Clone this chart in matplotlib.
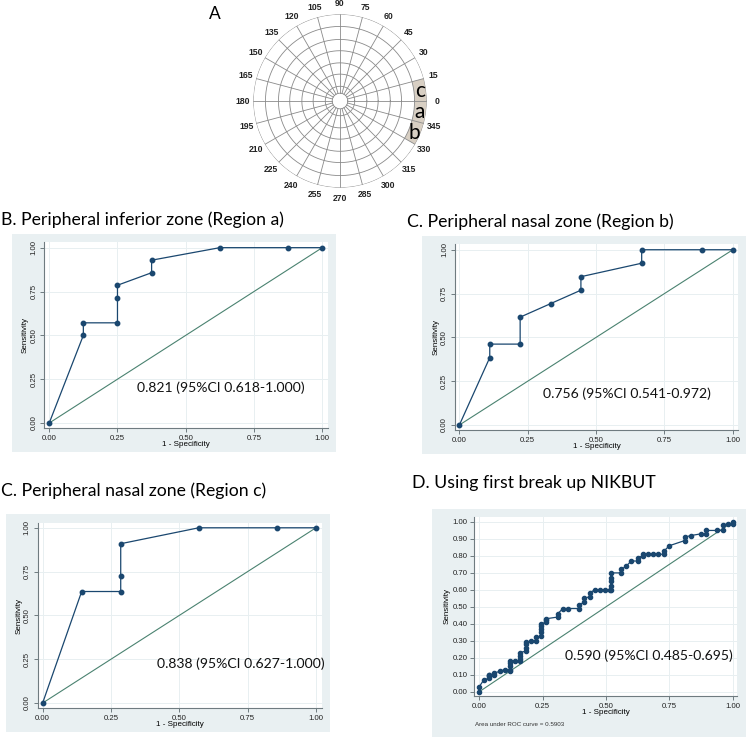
"""
Corneal map with peripheral regions (A) and ROC curves for the
tear film break-up measures (B-D), redrawn as one figure -> out.png
"""

import numpy as np
import matplotlib

matplotlib.use("Agg")
import matplotlib.pyplot as plt
from matplotlib.patches import Rectangle

W, H = 746, 737
TITLE_FONT = "Lato"
TICK_FONT = "Liberation Sans"
NAVY = "#1a476f"
REF_GREEN = "#4a8270"
GRAPH_BG = "#e9f0f2"
GRID = "#e8eff1"
SPINE = "#6f7b80"

# panel A: polar map
MAP_ANGLES = list(range(0, 360, 15))
MAP_RINGS = [0.09, 0.17, 0.31, 0.44, 0.58, 0.71, 0.86, 1.0]
REGION_NAMES = ["c", "a", "b"]
REGION_START = [0, -15, -30]   # degrees
REGION_WIDTH = 15

# ROC curves, (1 - specificity, sensitivity)
B_FPR = [0, 1/8, 1/8, 2/8, 2/8, 2/8, 3/8, 3/8, 5/8, 7/8, 1]
B_TPR = [0, 7/14, 8/14, 8/14, 10/14, 11/14, 12/14, 13/14, 1, 1, 1]
B_AUC = "0.821 (95%CI 0.618-1.000)"

CB_FPR = [0, 1/9, 1/9, 2/9, 2/9, 3/9, 4/9, 4/9, 6/9, 6/9, 8/9, 1]
CB_TPR = [0, 5/13, 6/13, 6/13, 8/13, 9/13, 10/13, 11/13, 12/13, 1, 1, 1]
CB_AUC = "0.756 (95%CI 0.541-0.972)"

CC_FPR = [0, 1/7, 2/7, 2/7, 2/7, 4/7, 6/7, 1]
CC_TPR = [0, 7/11, 7/11, 8/11, 10/11, 1, 1, 1]
CC_AUC = "0.838 (95%CI 0.627-1.000)"

D_FPR = [0, 0, 0.018, 0.04, 0.04, 0.04, 0.04, 0.06, 0.06, 0.08, 0.10, 0.12,
         0.12, 0.12, 0.12, 0.12, 0.14, 0.16, 0.16, 0.16, 0.16, 0.185, 0.185,
         0.185, 0.185, 0.205, 0.225, 0.225, 0.245, 0.245, 0.245, 0.245, 0.245,
         0.265, 0.265, 0.265, 0.31, 0.31, 0.33, 0.35, 0.395, 0.395, 0.415,
         0.415, 0.435, 0.435, 0.455, 0.475, 0.495, 0.515, 0.52, 0.52, 0.52,
         0.52, 0.52, 0.56, 0.56, 0.58, 0.60, 0.625, 0.625, 0.645, 0.645, 0.665,
         0.685, 0.705, 0.73, 0.73, 0.75, 0.81, 0.81, 0.835, 0.875, 0.895,
         0.895, 0.94, 0.96, 0.96, 0.98, 1.0, 1.0]
D_TPR = [0, 0.03, 0.07, 0.08, 0.09, 0.10, 0.10, 0.10, 0.11, 0.12, 0.13, 0.12,
         0.13, 0.15, 0.17, 0.18, 0.18, 0.18, 0.19, 0.21, 0.23, 0.24, 0.26,
         0.28, 0.29, 0.30, 0.30, 0.32, 0.33, 0.35, 0.37, 0.39, 0.40,
         0.41, 0.42, 0.43, 0.44, 0.46, 0.49, 0.49, 0.49, 0.51, 0.53,
         0.55, 0.56, 0.58, 0.60, 0.60, 0.60, 0.60, 0.60, 0.62, 0.65,
         0.67, 0.70, 0.70, 0.72, 0.74, 0.77, 0.77, 0.79, 0.80, 0.81, 0.81,
         0.81, 0.81, 0.81, 0.83, 0.86, 0.89, 0.91, 0.92, 0.93, 0.93,
         0.95, 0.95, 0.95, 0.98, 0.99, 0.99, 1.0]
D_AUC = "0.590 (95%CI 0.485-0.695)"
D_NOTE = "Area under ROC curve = 0.5903"

BC_TICKS = [0, 0.25, 0.5, 0.75, 1.0]
D_YTICKS = [i / 10 for i in range(11)]


def px_rect(left, top, right, bottom):
    """pixel box -> figure fraction [l, b, w, h]"""
    return [left / W, 1 - bottom / H, (right - left) / W, (bottom - top) / H]


def graph_bg(fig, left, top, right, bottom):
    r = px_rect(left, top, right, bottom)
    fig.patches.append(Rectangle((r[0], r[1]), r[2], r[3], transform=fig.transFigure,
                                 facecolor=GRAPH_BG, edgecolor="none", zorder=-5))


def roc_panel(fig, box, xlim, ylim, fpr, tpr, auc_text, auc_xy, yticks,
              rotate_y=True, msize=3.2):
    ax = fig.add_axes(px_rect(*box))
    ax.set_facecolor("white")
    ax.set_xlim(*xlim)
    ax.set_ylim(*ylim)
    ax.plot([0, 1], [0, 1], color=REF_GREEN, lw=0.8, zorder=2)
    ax.plot(fpr, tpr, color=NAVY, lw=0.9, marker="o", ms=msize, zorder=3)
    ax.set_xticks(BC_TICKS)
    ax.set_xticklabels(["{:.2f}".format(t) for t in BC_TICKS],
                       fontsize=5.6, family=TICK_FONT)
    ax.set_yticks(yticks)
    if rotate_y:
        ax.set_yticklabels(["{:.2f}".format(t) for t in yticks], fontsize=5.6,
                           family=TICK_FONT, rotation=90, va="center")
    else:
        ax.set_yticklabels(["{:.2f}".format(t) for t in yticks], fontsize=5.6,
                           family=TICK_FONT)
    ax.grid(True, color=GRID, lw=0.7)
    ax.set_axisbelow(True)
    for s in ("top", "right"):
        ax.spines[s].set_visible(False)
    for s in ("left", "bottom"):
        ax.spines[s].set_color(SPINE)
        ax.spines[s].set_linewidth(0.8)
    ax.tick_params(length=3, width=0.7, color=SPINE, pad=2, labelcolor="#222222")
    ax.set_xlabel("1 - Specificity", fontsize=5.8, family=TICK_FONT, labelpad=-1)
    ax.set_ylabel("Sensitivity", fontsize=5.8, family=TICK_FONT, labelpad=1)
    ax.text(auc_xy[0], auc_xy[1], auc_text, fontsize=10.1, family=TITLE_FONT,
            ha="left", va="center", color="#111111")
    return ax


def map_panel(fig):
    cx, cy, r = 340, 101, 86.7
    ax = fig.add_axes(px_rect(cx - r, cy - r, cx + r, cy + r), projection="polar")
    ax.set_ylim(0, 1)
    ax.axis("off")
    theta = np.linspace(0, 2 * np.pi, 400)
    # shaded peripheral regions
    for start in REGION_START:
        ax.bar(np.deg2rad(start + REGION_WIDTH / 2), MAP_RINGS[-1] - MAP_RINGS[-2],
               width=np.deg2rad(REGION_WIDTH), bottom=MAP_RINGS[-2],
               color="#d8cfc3", edgecolor="none", zorder=1)
    for rr in MAP_RINGS:
        ax.plot(theta, np.full_like(theta, rr), color="#8a8a8a", lw=0.6, zorder=2)
    for a in MAP_ANGLES:
        t = np.deg2rad(a)
        ax.plot([t, t], [MAP_RINGS[0], MAP_RINGS[-1]], color="#8a8a8a", lw=0.6, zorder=2)
        ax.text(t, 1.12, str(a), fontsize=6.2, family=TICK_FONT, fontweight="bold",
                ha="center", va="center", color="#222222")
    for name, start in zip(REGION_NAMES, REGION_START):
        ax.text(np.deg2rad(start + REGION_WIDTH / 2 - 0.5), 0.93, name, fontsize=15,
                family=TITLE_FONT, ha="center", va="center", zorder=4)
    fig.text(215 / W, 1 - 14 / H, "A", fontsize=12.5, family=TITLE_FONT,
             ha="center", va="center")


def main():
    fig = plt.figure(figsize=(W / 100, H / 100), dpi=100)
    fig.patch.set_facecolor("white")

    map_panel(fig)

    # B
    graph_bg(fig, 12, 234, 336, 452)
    fig.text(1 / W, 1 - 220 / H, "B. Peripheral inferior zone (Region a)",
             fontsize=12.7, family=TITLE_FONT, ha="left", va="center")
    roc_panel(fig, (44.3, 241.7, 328, 428.3), (-0.018, 1.021), (-0.030, 1.034),
              B_FPR, B_TPR, B_AUC, (0.322, 0.20), BC_TICKS)

    # C, region b
    graph_bg(fig, 422, 236, 746, 454)
    fig.text(407 / W, 1 - 221.7 / H, "C. Peripheral nasal zone (Region b)",
             fontsize=12.7, family=TITLE_FONT, ha="left", va="center")
    roc_panel(fig, (455, 244.3, 738.3, 430), (-0.016, 1.020), (-0.0285, 1.031),
              CB_FPR, CB_TPR, CB_AUC, (0.305, 0.178), BC_TICKS)

    # C, region c
    graph_bg(fig, 6, 514, 330, 732)
    fig.text(1 / W, 1 - 491 / H, "C. Peripheral nasal zone (Region c)",
             fontsize=12.7, family=TITLE_FONT, ha="left", va="center")
    roc_panel(fig, (37.7, 522.7, 321.7, 708.3), (-0.018, 1.021), (-0.030, 1.029),
              CC_FPR, CC_TPR, CC_AUC, (0.42, 0.222), BC_TICKS)

    # D
    graph_bg(fig, 432, 509, 746, 737)
    fig.text(412 / W, 1 - 483.3 / H, "D. Using first break up NIKBUT",
             fontsize=12.7, family=TITLE_FONT, ha="left", va="center")
    roc_panel(fig, (474.3, 516.7, 736.7, 696), (-0.0197, 1.016), (-0.0253, 1.031),
              D_FPR, D_TPR, D_AUC, (0.338, 0.21), D_YTICKS, rotate_y=False, msize=3.0)
    fig.text(475 / W, 1 - 724 / H, D_NOTE, fontsize=4.5, family=TICK_FONT,
             ha="left", va="center", color="#333333")

    fig.savefig("out.png", dpi=100, facecolor="white")
    plt.close(fig)


if __name__ == "__main__":
    main()
